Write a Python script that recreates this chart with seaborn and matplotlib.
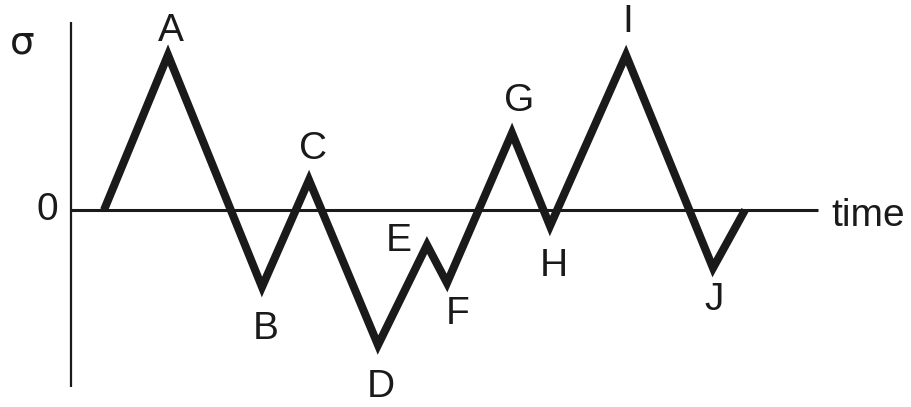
import numpy as np
import pandas as pd
import matplotlib
matplotlib.use("Agg")
import matplotlib.pyplot as plt
import seaborn as sns

# stress history, turning points
time = [104, 168, 262, 309, 378, 427, 447, 512, 550, 626, 713, 745]
sigma = [0, 155, -77, 30, -135, -35, -73, 77, -16, 155, -58, 0]
names = ["", "A", "B", "C", "D", "E", "F", "G", "H", "I", "J", ""]

# label offsets (points) from each turning point
offs = [(0, 0), (2, 17), (3, -30), (3, 22), (2, -30), (-20, 3), (8, -22),
        (5, 23), (3, -29), (1, 24), (1, -23), (0, 0)]

df = pd.DataFrame({"time": time, "sigma": sigma})

sns.set_style("white")
plt.rcParams["font.family"] = ["Liberation Sans", "DejaVu Sans"]

fig = plt.figure(figsize=(9.12, 4.07), dpi=100)
ax = fig.add_axes([0, 0, 1, 1])
ax.set_xlim(0, 912)
ax.set_ylim(-197, 210)

# axes drawn by hand
ax.plot([71, 818], [0, 0], color="#1a1a1a", lw=2.2, solid_capstyle="butt")
ax.plot([71, 71], [-177, 188], color="#1a1a1a", lw=1.6, solid_capstyle="butt")

sns.lineplot(data=df, x="time", y="sigma", sort=False, ax=ax, color="#1a1a1a",
             lw=5.8, solid_joinstyle="miter", solid_capstyle="butt")

for t, s, n, o in zip(time, sigma, names, offs):
    if n:
        ax.annotate(n, (t, s), xytext=o, textcoords="offset points",
                    ha="center", va="center", fontsize=28, color="#1a1a1a")

ax.text(22, 168, "σ", fontsize=28, ha="center", va="center", color="#1a1a1a",
        family=["DejaVu Sans"])
ax.text(47, 0, "0", fontsize=28, ha="center", va="center", color="#1a1a1a")
ax.text(831, -6, "time", fontsize=28, ha="left", va="center", color="#1a1a1a")

ax.set_axis_off()
fig.savefig("out.png", dpi=100, facecolor="white")
